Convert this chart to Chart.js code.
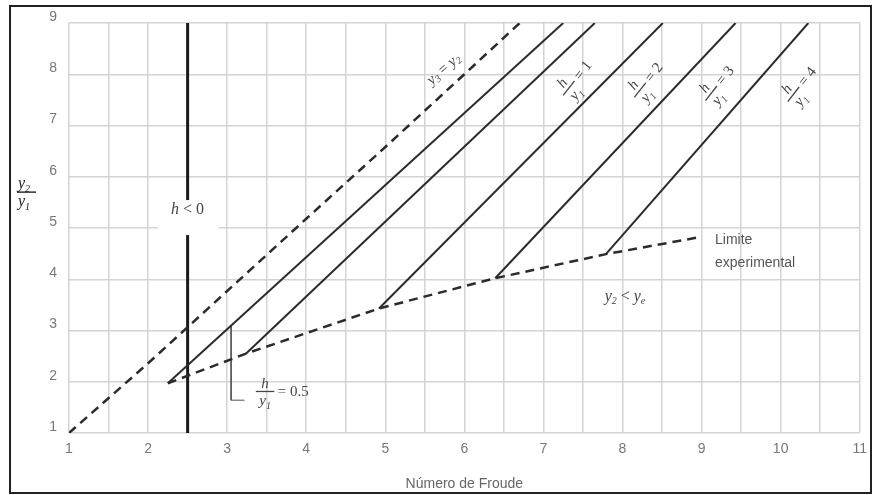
<!DOCTYPE html>
<html lang="pt">
<head>
<meta charset="utf-8">
<title>Número de Froude</title>
<script src="https://cdn.jsdelivr.net/npm/chart.js"></script>
<style>
	html, body { margin: 0; padding: 0; background: #fff; }
	.wrap { position: relative; width: 875px; height: 495px; }
	.frame {
		position: absolute; left: 9px; top: 5px; width: 863px; height: 489px;
		border: 2px solid #222; box-sizing: border-box; pointer-events: none;
	}
</style>
</head>
<body>
<div class="wrap">
	<canvas id="jumpChart"></canvas>
	<div class="frame"></div>
</div>

<script>
	// y3 = y2 curve (dashed)
	const conjugateX = [1, 2, 3, 4, 5, 6, 6.7];
	const conjugateY = [1, 2.36, 3.77, 5.18, 6.58, 8.0, 9];

	// h / y1 lines
	const sillLabels = ['0.5', '1', '2', '3', '4'];
	const sillStartX = [2.25, 3.24, 4.92, 6.39, 7.79];
	const sillStartY = [1.97, 2.55, 3.43, 4.02, 4.49];
	const sillEndX = [7.25, 7.65, 8.51, 9.43, 10.35];
	const sillEndY = [9, 9, 9, 9, 9];

	// experimental limit (dashed)
	const limitX = [2.25, 3.24, 4.92, 6.39, 7.79, 8.97];
	const limitY = [1.97, 2.55, 3.43, 4.02, 4.49, 4.82];

	// h < 0 boundary
	const zeroX = [2.5, 2.5];
	const zeroY = [1, 9];

	// leader for h/y1 = 0.5
	const leaderX = [3.05, 3.05, 3.22];
	const leaderY = [3.10, 1.64, 1.64];

	const xTickValues = [1, 2, 3, 4, 5, 6, 7, 8, 9, 10, 11];
	const yTickValues = [1, 2, 3, 4, 5, 6, 7, 8, 9];

	const zip = (xs, ys) => xs.map((x, i) => ({ x: x, y: ys[i] }));

	const serif = '"Liberation Serif", "DejaVu Serif", serif';
	const sans = '"Liberation Sans", Arial, sans-serif';

	const datasets = [];
	datasets.push({ data: zip(conjugateX, conjugateY), borderColor: '#2b2b2b', borderWidth: 2.5, borderDash: [9, 6] });
	sillLabels.forEach((lab, i) => {
		datasets.push({
			data: [{ x: sillStartX[i], y: sillStartY[i] }, { x: sillEndX[i], y: sillEndY[i] }],
			borderColor: '#2b2b2b', borderWidth: 2
		});
	});
	datasets.push({ data: zip(limitX, limitY), borderColor: '#2b2b2b', borderWidth: 2.5, borderDash: [9, 6] });
	datasets.push({ data: zip(zeroX, zeroY), borderColor: '#1a1a1a', borderWidth: 3 });
	datasets.push({ data: zip(leaderX, leaderY), borderColor: '#555', borderWidth: 1 });
	datasets.forEach(d => { d.showLine = true; d.pointRadius = 0; d.fill = false; });

	// y with a subscript, returns width
	function ySub(ctx, x, y, sub, size) {
		ctx.font = 'italic ' + size + 'px ' + serif;
		ctx.fillText('y', x, y);
		const w = ctx.measureText('y').width;
		ctx.font = 'italic ' + Math.round(size * 0.65) + 'px ' + serif;
		ctx.fillText(sub, x + w, y + size * 0.25);
		return w + ctx.measureText(sub).width;
	}

	// "h / y1 = n" label, fraction style
	function fracLabel(ctx, cx, cy, angle, rhs, size) {
		const k = size / 13;
		ctx.save();
		ctx.translate(cx, cy);
		ctx.rotate(angle);
		ctx.fillStyle = '#444';
		ctx.strokeStyle = '#444';
		ctx.textBaseline = 'alphabetic';
		ctx.font = 'italic ' + size + 'px ' + serif;
		ctx.textAlign = 'center';
		ctx.fillText('h', -11 * k, -3 * k);
		ctx.lineWidth = 1.3;
		ctx.beginPath();
		ctx.moveTo(-19 * k, 0.5);
		ctx.lineTo(-3 * k, 0.5);
		ctx.stroke();
		ctx.textAlign = 'left';
		ySub(ctx, -16 * k, 12 * k, '1', size);
		ctx.font = size + 'px ' + serif;
		ctx.textBaseline = 'middle';
		ctx.fillText('= ' + rhs, 0, 1);
		ctx.restore();
	}

	const notes = {
		conjugate: { x: 5.80, y: 8.18 },
		sill: [{ x: 7.39, y: 7.93 }, { x: 8.29, y: 7.89 }, { x: 9.19, y: 7.83 }, { x: 10.23, y: 7.81 }],
		half: { x: 3.64, y: 1.82 },
		negative: { x: 2.5, y: 5.35 },
		subcritical: { x: 8.09, y: 3.65 },
		limit: { x: 9.17, y: 4.76 }
	};

	const annotations = {
		id: 'annotations',
		afterDatasetsDraw(chart) {
			const ctx = chart.ctx;
			const sx = chart.scales.x, sy = chart.scales.y;
			const px = v => sx.getPixelForValue(v);
			const py = v => sy.getPixelForValue(v);

			// h < 0 box
			const nx = px(notes.negative.x), ny = py(notes.negative.y);
			ctx.save();
			ctx.fillStyle = '#fff';
			ctx.fillRect(nx - 30, ny - 10, 61, 35);
			ctx.fillStyle = '#444';
			ctx.textBaseline = 'middle';
			ctx.font = 'italic 16px ' + serif;
			const hw = ctx.measureText('h').width;
			ctx.font = '16px ' + serif;
			const rw = ctx.measureText(' < 0').width;
			const start = nx - (hw + rw) / 2;
			ctx.font = 'italic 16px ' + serif;
			ctx.fillText('h', start, ny);
			ctx.font = '16px ' + serif;
			ctx.fillText(' < 0', start + hw, ny);
			ctx.restore();

			// y3 = y2
			ctx.save();
			ctx.translate(px(notes.conjugate.x), py(notes.conjugate.y));
			ctx.rotate(-41.6 * Math.PI / 180);
			ctx.fillStyle = '#444';
			ctx.textBaseline = 'middle';
			let w = ySub(ctx, -26, 0, '3', 15);
			ctx.font = '15px ' + serif;
			ctx.fillText(' = ', -26 + w, 0);
			w += ctx.measureText(' = ').width;
			ySub(ctx, -26 + w, 0, '2', 15);
			ctx.restore();

			// h / y1 labels along lines
			notes.sill.forEach((p, i) => {
				fracLabel(ctx, px(p.x) + 2, py(p.y), -52 * Math.PI / 180, sillLabels[i + 1], 15);
			});
			fracLabel(ctx, px(notes.half.x), py(notes.half.y), 0, sillLabels[0], 15);

			// y2 < ye
			ctx.save();
			ctx.fillStyle = '#444';
			ctx.textBaseline = 'middle';
			const cx = px(notes.subcritical.x) - 25, cy = py(notes.subcritical.y);
			let w2 = ySub(ctx, cx, cy, '2', 16);
			ctx.font = '16px ' + serif;
			ctx.fillText(' < ', cx + w2, cy);
			w2 += ctx.measureText(' < ').width;
			ySub(ctx, cx + w2, cy, 'e', 16);
			ctx.restore();

			// Limite experimental
			ctx.save();
			ctx.fillStyle = '#555';
			ctx.font = '14px ' + sans;
			ctx.textBaseline = 'middle';
			const lx = px(notes.limit.x), ly = py(notes.limit.y);
			ctx.fillText('Limite', lx, ly);
			ctx.fillText('experimental', lx, ly + 23);
			ctx.restore();

			// y-axis title y2 / y1
			ctx.save();
			ctx.fillStyle = '#222';
			ctx.strokeStyle = '#222';
			ctx.textBaseline = 'alphabetic';
			const tx = chart.chartArea.left - 42, ty = py(5.7);
			ySub(ctx, tx - 9, ty - 4, '2', 16);
			ctx.lineWidth = 1.4;
			ctx.beginPath();
			ctx.moveTo(tx - 10, ty);
			ctx.lineTo(tx + 9, ty);
			ctx.stroke();
			ySub(ctx, tx - 9, ty + 14, '1', 16);
			ctx.restore();
		}
	};

	new Chart(document.getElementById('jumpChart'), {
		type: 'scatter',
		data: { datasets: datasets },
		options: {
			responsive: true,
			maintainAspectRatio: false,
			animation: false,
			events: [],
			layout: { padding: { top: 23, right: 12, left: 0, bottom: 0 } },
			plugins: { legend: { display: false }, tooltip: { enabled: false } },
			scales: {
				x: {
					type: 'linear',
					min: 1, max: 11,
					afterFit: s => { s.height = 62; },
					border: { display: false },
					grid: { color: '#d3d3d3', lineWidth: 1.5, drawTicks: false },
					ticks: {
						stepSize: 0.5, padding: 8, color: '#777',
						font: { family: sans, size: 14 },
						autoSkip: false, maxRotation: 0,
						callback: v => xTickValues.includes(v) ? String(v) : ''
					},
					title: {
						display: true, text: 'Número de Froude', color: '#666',
						font: { family: sans, size: 14 }, padding: { top: 0, bottom: 2 }
					}
				},
				y: {
					type: 'linear',
					min: 1, max: 9,
					afterFit: s => { s.width = 69; },
					border: { display: false },
					grid: { color: '#d3d3d3', lineWidth: 1.5, drawTicks: false },
					ticks: {
						stepSize: 1, padding: 12, color: '#777', labelOffset: -6,
						font: { family: sans, size: 14 },
						callback: v => yTickValues.includes(v) ? String(v) : ''
					}
				}
			}
		},
		plugins: [annotations]
	});
</script>
</body>
</html>
